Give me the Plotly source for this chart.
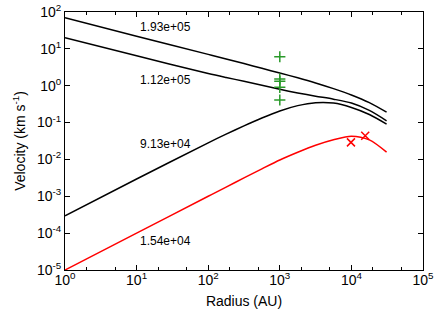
import math
import plotly.graph_objects as go

# Radius grid (AU)
radius = [1, 10, 100, 178, 316, 562, 1000, 1780, 3160, 5620, 10000, 17800, 31000]

# Velocity curves (km/s), labelled by their parameter
v_193e5 = [70, 22.1, 7.08, 5.31, 3.98, 2.97, 2.21, 1.64, 1.19, 0.832, 0.562, 0.347, 0.191]
v_112e5 = [20.1, 6.46, 2.14, 1.67, 1.32, 1.03, 0.80, 0.637, 0.519, 0.431, 0.339, 0.214, 0.112]
v_913e4 = [2.95e-4, 2.95e-3, 0.0282, 0.0484, 0.0813, 0.133, 0.207, 0.288, 0.347, 0.339, 0.257, 0.166, 0.0912]
v_154e4 = [1e-5, 1e-4, 1e-3, 1.78e-3, 3.16e-3, 5.56e-3, 9.66e-3, 0.0157, 0.0243, 0.0343, 0.0427, 0.0339, 0.0158]

# Observed points
green_r = [1000, 1000, 1000, 1000, 1000]
green_v = [6.1, 1.52, 1.32, 0.906, 0.41]
red_r = [9860, 15600]
red_v = [0.029, 0.044]

labels = ["1.93e+05", "1.12e+05", "9.13e+04", "1.54e+04"]
label_r = [25.7, 25.7, 25.7, 25.7]
label_v = [39.2, 1.43, 0.0263, 6.3e-5]

xtick_vals = [1, 10, 100, 1000, 10000, 100000]
xtick_text = ["10<sup>0</sup>", "10<sup>1</sup>", "10<sup>2</sup>", "10<sup>3</sup>", "10<sup>4</sup>", "10<sup>5</sup>"]
ytick_vals = [1e-5, 1e-4, 1e-3, 1e-2, 1e-1, 1, 10, 100]
ytick_text = ["10<sup>-5</sup>", "10<sup>-4</sup>", "10<sup>-3</sup>", "10<sup>-2</sup>", "10<sup>-1</sup>", "10<sup>0</sup>", "10<sup>1</sup>", "10<sup>2</sup>"]

fig = go.Figure()
for v, col in [(v_193e5, "black"), (v_112e5, "black"), (v_913e4, "black"), (v_154e4, "red")]:
    fig.add_trace(go.Scatter(x=radius, y=v, mode="lines",
                             line=dict(color=col, width=1.5, shape="spline", smoothing=0.8),
                             showlegend=False, hoverinfo="skip"))

fig.add_trace(go.Scatter(x=green_r, y=green_v, mode="markers",
                         marker=dict(symbol="cross-thin-open", size=8, color="#2a9a2a",
                                     line=dict(color="#2a9a2a", width=1.5)),
                         showlegend=False))
fig.add_trace(go.Scatter(x=red_r, y=red_v, mode="markers",
                         marker=dict(symbol="x-thin-open", size=8, color="red",
                                     line=dict(color="red", width=1.5)),
                         showlegend=False))

for t, r, v in zip(labels, label_r, label_v):
    fig.add_annotation(x=math.log10(r), y=math.log10(v), text=t, showarrow=False,
                       font=dict(size=12, color="black"), xanchor="center", yanchor="middle")

font = "Liberation Sans, Arial, sans-serif"
fig.update_layout(
    width=436, height=312,
    margin=dict(l=65, r=13, t=12, b=42),
    paper_bgcolor="white", plot_bgcolor="white",
    font=dict(family=font, size=14, color="black"),
)
fig.update_xaxes(type="log", range=[0, 5], tickvals=xtick_vals, ticktext=xtick_text, automargin=False,
                 showgrid=False, zeroline=False, showline=True, linecolor="black", linewidth=1,
                 mirror="ticks", ticks="inside", ticklen=5, tickwidth=1, tickcolor="black",
                 minor=dict(ticks="inside", ticklen=3, tickwidth=1, tickcolor="black", showgrid=False),
                 ticklabelstandoff=-3,
                 tickfont=dict(size=14), title=dict(text="Radius (AU)", font=dict(size=14), standoff=9))
fig.update_yaxes(type="log", range=[-5, 2], tickvals=ytick_vals, ticktext=ytick_text, automargin=False,
                 showgrid=False, zeroline=False, showline=True, linecolor="black", linewidth=1,
                 mirror="ticks", ticks="inside", ticklen=5, tickwidth=1, tickcolor="black",
                 tickfont=dict(size=14), title=dict(text="Velocity (km s<sup>-1</sup>)", font=dict(size=14), standoff=8))

fig.write_html("out.html", config={"displayModeBar": False},
               post_script="document.body.style.margin='0';document.body.style.overflow='hidden';")
